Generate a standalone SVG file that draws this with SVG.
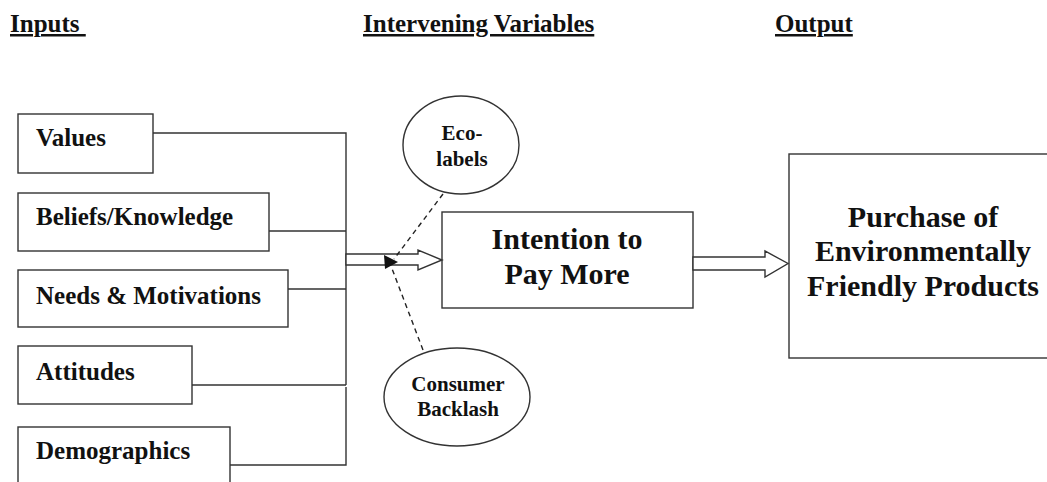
<svg xmlns="http://www.w3.org/2000/svg" width="1047" height="482" viewBox="0 0 1047 482">
  <style>
    text { font-family: "Liberation Serif", "Times New Roman", serif; font-weight: bold; fill: #111; }
    .hdr { font-size: 25px; text-decoration: underline; white-space: pre; }
    .lbl { font-size: 25px; }
    .big { font-size: 30px; text-anchor: middle; }
    .oval { font-size: 21px; text-anchor: middle; }
    .box { fill: #fff; stroke: #333; stroke-width: 1.4; }
    .wire { fill: none; stroke: #333; stroke-width: 1.4; }
    .dash { fill: none; stroke: #222; stroke-width: 1.4; stroke-dasharray: 5 4; }
    .block { fill: #fff; stroke: #333; stroke-width: 1.4; stroke-linejoin: miter; }
  </style>

  <rect width="1047" height="482" fill="#fff"/>

  <!-- column headings -->
  <g id="headings">
    <text class="hdr" x="10" y="32">Inputs </text>
    <text class="hdr" x="363" y="32">Intervening Variables</text>
    <text class="hdr" x="775" y="32">Output</text>
  </g>

  <!-- input boxes -->
  <g id="values">
    <rect class="box" x="18" y="114" width="135" height="59"/>
    <text class="lbl" x="36" y="146">Values</text>
  </g>
  <g id="beliefs">
    <rect class="box" x="18" y="193" width="251" height="58"/>
    <text class="lbl" x="36" y="225">Beliefs/Knowledge</text>
  </g>
  <g id="needs">
    <rect class="box" x="18" y="270" width="270" height="57"/>
    <text class="lbl" x="36" y="304">Needs &amp; Motivations</text>
  </g>
  <g id="attitudes">
    <rect class="box" x="18" y="346" width="174" height="58"/>
    <text class="lbl" x="36" y="380">Attitudes</text>
  </g>
  <g id="demographics">
    <rect class="box" x="18" y="427" width="212" height="70"/>
    <text class="lbl" x="36" y="459">Demographics</text>
  </g>

  <!-- intervening variables -->
  <g id="eco-labels">
    <ellipse class="box" cx="461" cy="145" rx="58" ry="49"/>
    <text class="oval" x="462" y="140">Eco-</text>
    <text class="oval" x="462" y="166">labels</text>
  </g>
  <g id="consumer-backlash">
    <ellipse class="box" cx="457" cy="397" rx="73" ry="49"/>
    <text class="oval" x="458" y="391">Consumer</text>
    <text class="oval" x="458" y="416">Backlash</text>
  </g>
  <g id="intention">
    <rect class="box" x="442" y="212" width="251" height="96"/>
    <text class="big" x="567" y="249">Intention to</text>
    <text class="big" x="567" y="284">Pay More</text>
  </g>

  <!-- output -->
  <g id="purchase">
    <rect class="box" x="789" y="154" width="270" height="204"/>
    <text class="big" x="923" y="227">Purchase of</text>
    <text class="big" x="923" y="261">Environmentally</text>
    <text class="big" x="923" y="296">Friendly Products</text>
  </g>

  <!-- connectors -->
  <g id="connectors">
    <path class="wire" d="M153 133 H346 V385 M269 231 H346 M288 289 H346 M192 385 H346"/>
    <path class="wire" d="M230 465 H346 V387"/>
    <!-- block arrow: inputs to intention -->
    <path class="block" d="M346 254 H418 V250 L442 260 L418 270 V265 H346 Z"/>
    <!-- block arrow: intention to purchase -->
    <path class="block" d="M693 257 H765 V251 L788 263.5 L765 277 V270 H693 Z"/>
    <!-- moderating influences -->
    <path class="dash" d="M443 194 L394 259"/>
    <path class="dash" d="M423 350 L391 266"/>
    <polygon points="385,269 384,255 398,262" fill="#111"/>
  </g>
</svg>
